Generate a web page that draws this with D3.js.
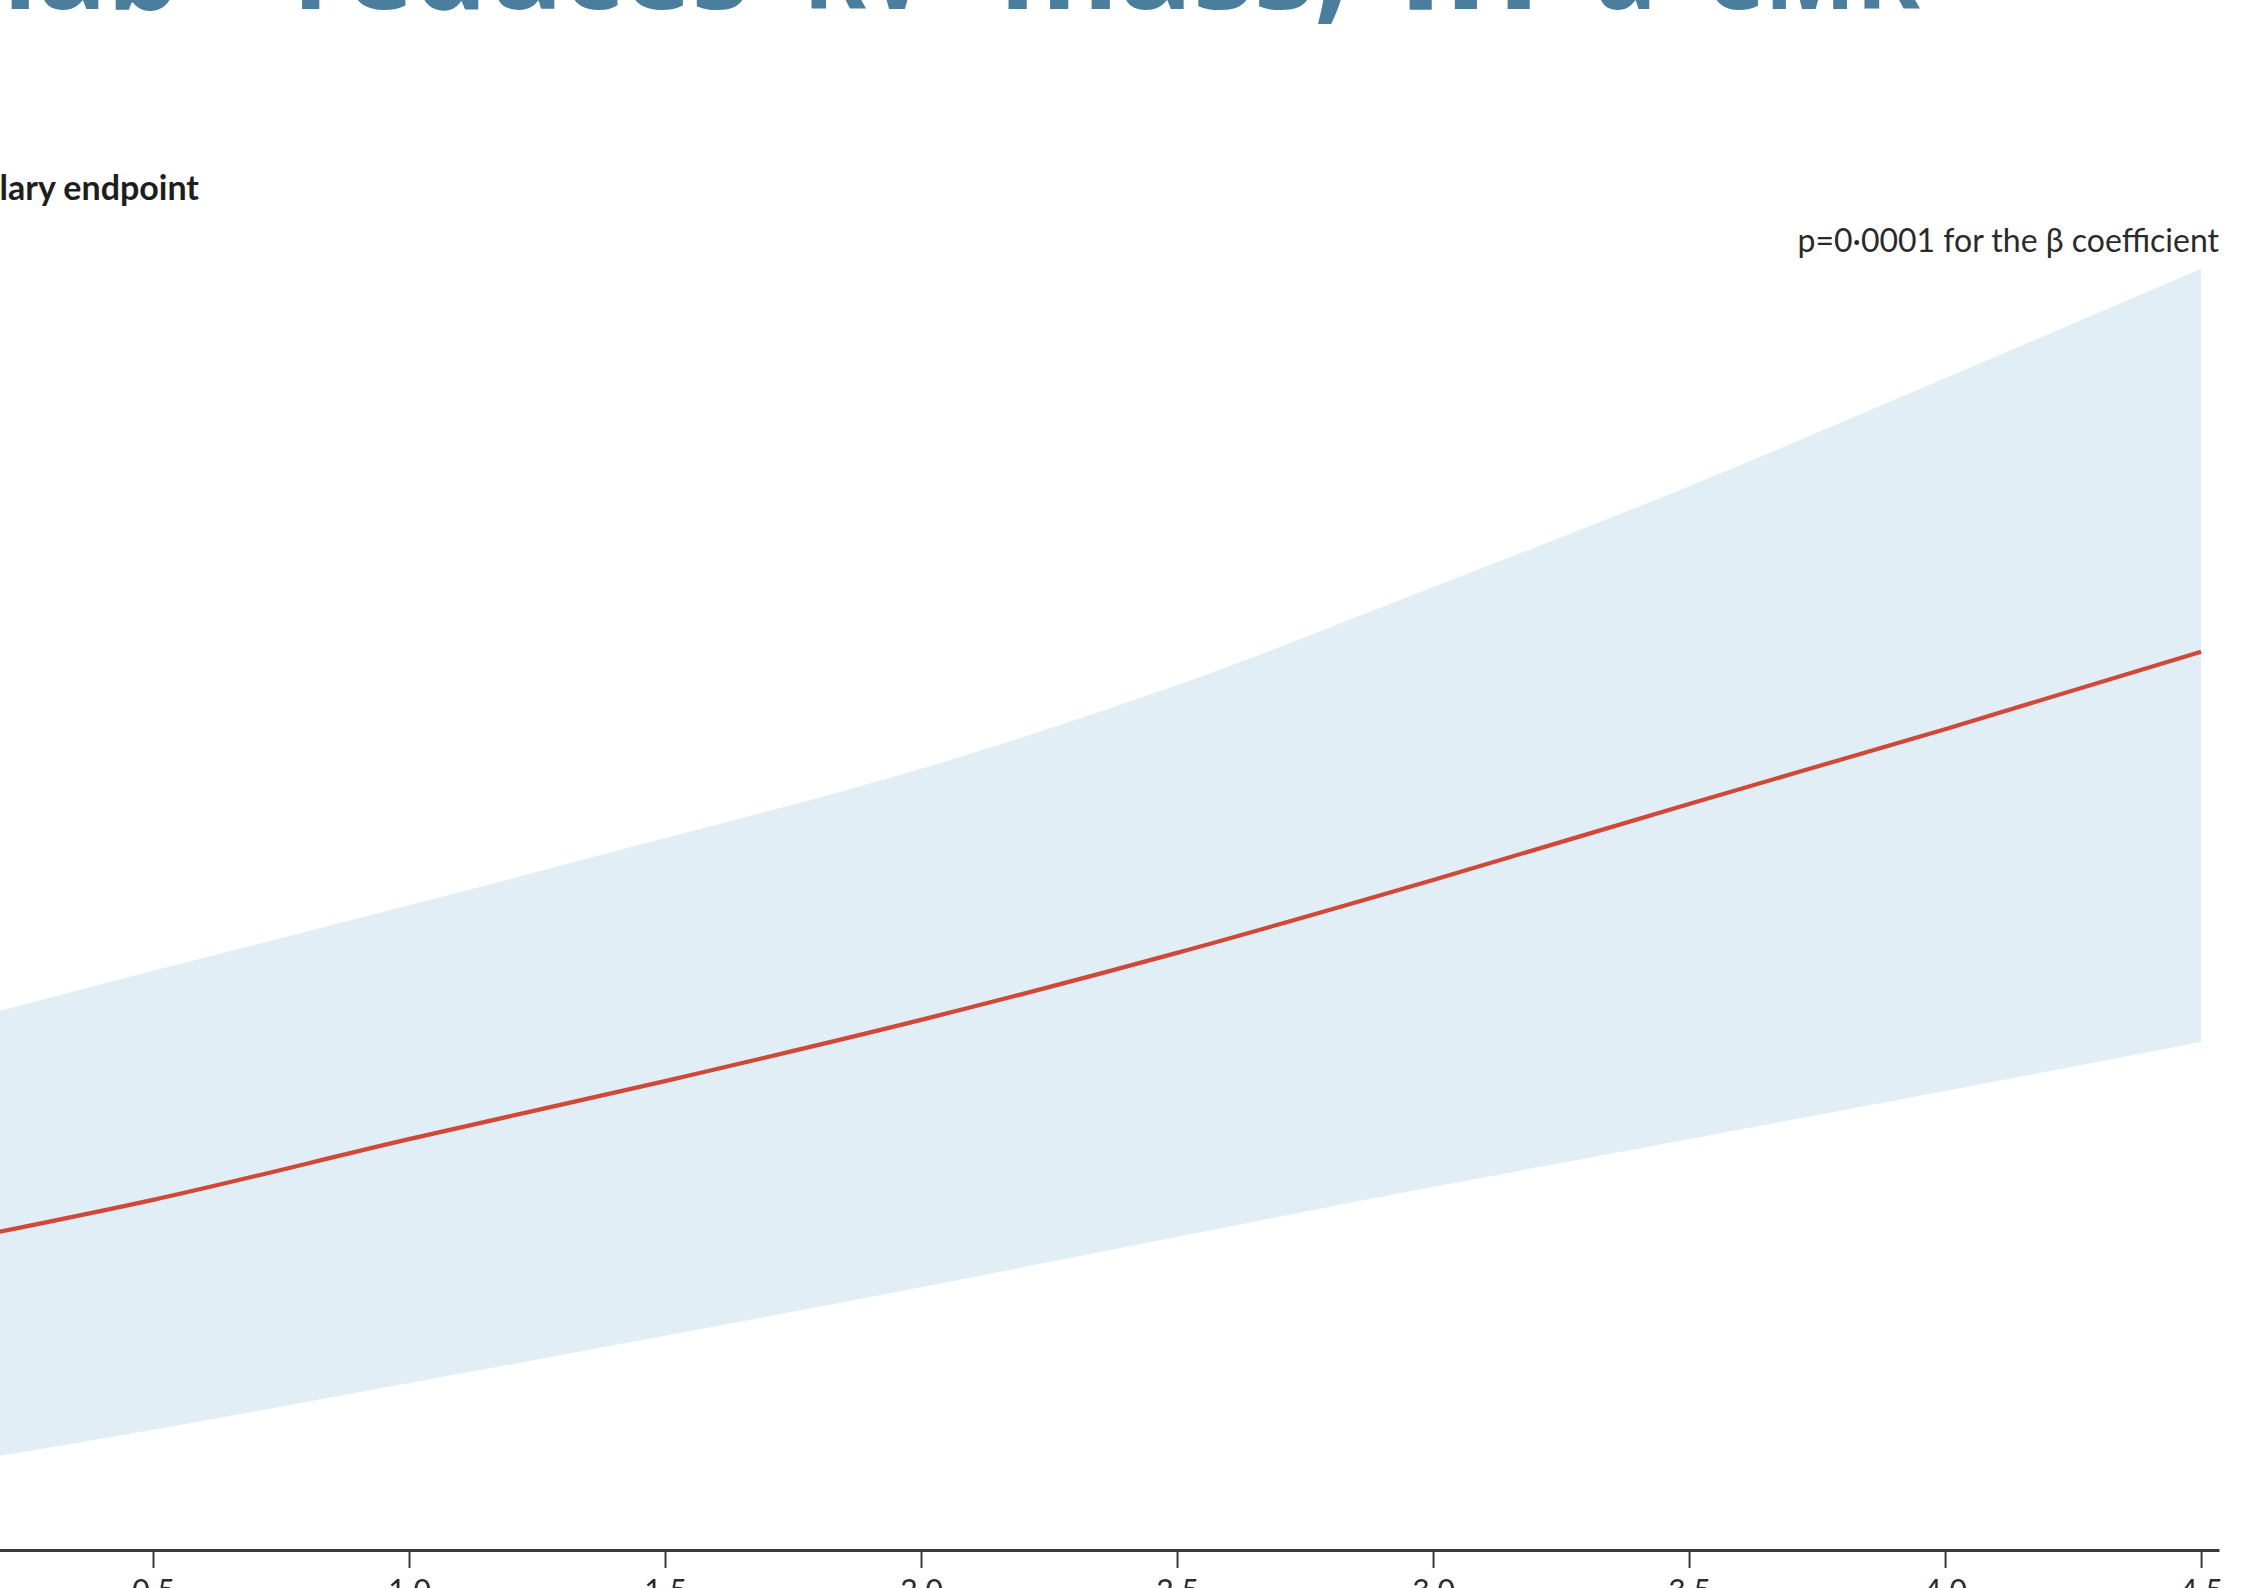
<!DOCTYPE html>
<html>
<head>
<meta charset="utf-8">
<script src="https://cdn.jsdelivr.net/npm/d3@7"></script>
<style>
  html, body { margin: 0; padding: 0; background: #ffffff; overflow: hidden; }
  svg { display: block; }
</style>
</head>
<body>
<svg id="chart" width="2246" height="1588"></svg>
<script>
// Exposure values along the x axis
const exposure = [0.2, 0.5, 1.0, 1.5, 2.0, 2.5, 3.0, 3.5, 4.0, 4.5];
// Fitted regression line
const fitted = [0.707, 0.778, 0.913, 1.042, 1.178, 1.327, 1.489, 1.658, 1.824, 1.996];
// 95% confidence band
const upperCI = [1.198, 1.287, 1.433, 1.582, 1.736, 1.922, 2.140, 2.364, 2.604, 2.847];
const lowerCI = [0.209, 0.267, 0.371, 0.476, 0.584, 0.696, 0.807, 0.913, 1.020, 1.129];

// Axis ticks
const tickValues = [0.5, 1.0, 1.5, 2.0, 2.5, 3.0, 3.5, 4.0, 4.5];
const tickLabels = ["0·5", "1·0", "1·5", "2·0", "2·5", "3·0", "3·5", "4·0", "4·5"];

// Headline words (only their lower edge sits on the page)
const titleWords = ["mab –", "reduces", "RV", "mass,", "in", "a", "CMR"];
const panelLabel = "Ancillary endpoint";
const pNote = "p=0·0001 for the β coefficient";

const svg = d3.select("#chart");

const x = d3.scaleLinear().domain([0, 4.535]).range([-103, 2219]);
const y = d3.scaleLinear().domain([0, 3]).range([1550, 200]);

const rows = exposure.map((e, i) => ({ e, fit: fitted[i], lo: lowerCI[i], hi: upperCI[i] }));

// Confidence band
svg.append("path")
  .datum(rows)
  .attr("fill", "#e2eef5")
  .attr("d", d3.area()
    .x(d => x(d.e))
    .y0(d => y(d.lo))
    .y1(d => y(d.hi))
    .curve(d3.curveMonotoneX));

// Fitted line
svg.append("path")
  .datum(rows)
  .attr("fill", "none")
  .attr("stroke", "#cf4838")
  .attr("stroke-width", 4.2)
  .attr("d", d3.line()
    .x(d => x(d.e))
    .y(d => y(d.fit))
    .curve(d3.curveMonotoneX));

// x axis
const axis = svg.append("g")
  .attr("transform", `translate(0,${y(0)})`)
  .call(d3.axisBottom(x)
    .tickValues(tickValues)
    .tickFormat((d, i) => tickLabels[i])
    .tickSize(18)
    .tickSizeOuter(0)
    .tickPadding(12));
axis.select(".domain").attr("stroke", "#3a3a3a").attr("stroke-width", 3);
axis.selectAll(".tick line").attr("stroke", "#3a3a3a").attr("stroke-width", 2);
axis.selectAll(".tick text")
  .attr("fill", "#2a2a2a")
  .attr("font-family", "Lato, 'Open Sans', sans-serif")
  .attr("font-size", 30);

// Headline, cropped at the top edge
const titleSpans = [[null, 137], [293, 749], [803, 928], [999, 1349], [1398, 1541], [1595, 1657], [1702, 1920]];
const title = svg.append("g")
  .attr("font-family", "'Open Sans', Lato, sans-serif")
  .attr("font-weight", 700)
  .attr("font-size", 115)
  .attr("fill", "#4b7e9d");
titleWords.forEach((w, i) => {
  const [a, b] = titleSpans[i];
  const t = title.append("text").attr("y", 9).text(w);
  if (a === null) {
    t.attr("x", b + 130).attr("text-anchor", "end");
  } else {
    t.attr("x", a).attr("textLength", b - a).attr("lengthAdjust", "spacingAndGlyphs");
  }
});

// Panel label
svg.append("text")
  .attr("x", 199)
  .attr("y", 200)
  .attr("text-anchor", "end")
  .attr("font-family", "Lato, 'Open Sans', sans-serif")
  .attr("font-weight", 700)
  .attr("font-size", 34)
  .attr("fill", "#1e1e1e")
  .text(panelLabel);

// Significance note
svg.append("text")
  .attr("x", 2219)
  .attr("y", 252)
  .attr("text-anchor", "end")
  .attr("font-family", "Lato, 'Open Sans', sans-serif")
  .attr("font-size", 32)
  .attr("fill", "#2a2a2a")
  .text(pNote);
</script>
</body>
</html>
